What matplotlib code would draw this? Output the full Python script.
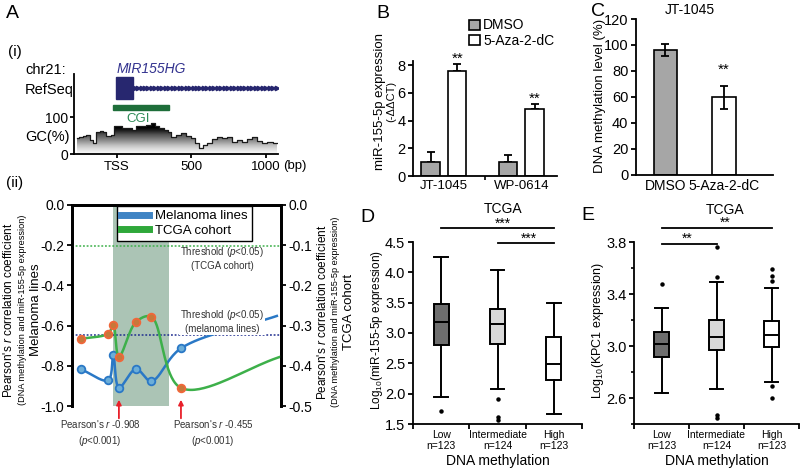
import numpy as np
import matplotlib
matplotlib.use("Agg")
import matplotlib.pyplot as plt
from matplotlib.lines import Line2D
from matplotlib.patches import Rectangle

# ---- data -------------------------------------------------------------
# A(i) GC content profile around MIR155HG (bp relative to TSS)
gc_bp = [-270, -240, -218, -195, -173, -150, -128, -105, -83, -61, -27, -16, 18, 52, 86,
         108, 142, 175, 209, 243, 265, 299, 333, 355, 377, 411, 445, 478, 512, 535,
         562, 591, 625, 658, 692, 726, 760, 793, 827, 861, 894, 928, 962, 995, 1029, 1074]
gc_pct = [43, 45, 49, 52, 38, 29, 61, 64, 61, 49, 52, 76, 75, 72, 70,
          65, 75, 76, 79, 84, 76, 70, 65, 61, 45, 52, 56, 49, 43, 29,
          15, 25, 31, 40, 47, 43, 45, 34, 38, 34, 40, 45, 36, 31, 34, 31]
exon_bp = [-9, 108]
transcript_end = 1074
cgi_bp = [-27, 351]

# A(ii) Pearson r per CpG probe
probe_bp = [-247, -61, -27, 11, 126, 229, 429]
mel_r = [-0.816, -0.872, -0.748, -0.908, -0.816, -0.876, -0.713]
tcga_r = [-0.333, -0.320, -0.299, -0.377, -0.291, -0.278, -0.455]
mel_tail = [1075, -0.552]
tcga_tail = [1103, -0.377]
mel_thresh = -0.645
tcga_thresh = -0.103

# B qPCR
cell_lines = ["JT-1045", "WP-0614"]
dmso_expr = [1.0, 1.0]
dmso_err = [0.7, 0.55]
aza_expr = [7.57, 4.87]
aza_err = [0.5, 0.35]

# C methylation
c_groups = ["DMSO", "5-Aza-2-dC"]
meth = [96.2, 59.7]
meth_err = [4.7, 9.0]

# D / E TCGA boxplots
meth_groups = ["Low\nn=123", "Intermediate\nn=124", "High\nn=123"]
d_whislo = [1.94, 2.07, 1.66]
d_q1 = [2.81, 2.82, 2.23]
d_med = [3.18, 3.15, 2.49]
d_q3 = [3.47, 3.39, 2.93]
d_whishi = [4.26, 4.04, 3.49]
d_fliers = [[1.71], [1.92, 1.61, 1.57], []]
e_whislo = [2.64, 2.67, 2.72]
e_q1 = [2.915, 2.97, 2.99]
e_med = [3.015, 3.07, 3.085]
e_q3 = [3.11, 3.20, 3.19]
e_whishi = [3.29, 3.49, 3.45]
e_fliers = [[3.48], [3.76, 3.53, 2.47, 2.45], [3.59, 3.54, 3.50, 2.69, 2.60]]
box_colors = ["#6e6e6e", "#d9d9d9", "white"]

# ---- style ------------------------------------------------------------
plt.rcParams["font.family"] = ["Liberation Sans", "DejaVu Sans"]
plt.rcParams["mathtext.fontset"] = "custom"
plt.rcParams["mathtext.rm"] = "Liberation Sans"
plt.rcParams["mathtext.it"] = "Liberation Sans:italic"
plt.rcParams["axes.linewidth"] = 1.3
plt.rcParams["xtick.major.width"] = 1.3
plt.rcParams["ytick.major.width"] = 1.3
plt.rcParams["xtick.major.size"] = 3.5
plt.rcParams["ytick.major.size"] = 3.5

W, H = 800, 468
fig = plt.figure(figsize=(8, 4.68), dpi=100)


def px_rect(l, t, r, b):
    return [l / W, 1 - b / H, (r - l) / W, (b - t) / H]


def label(x, y, s, **kw):
    kw.setdefault("ha", "center")
    kw.setdefault("va", "center")
    return fig.text(x / W, 1 - y / H, s, **kw)


def smooth_curve(xs, ys, sx, sy, n=40):
    # centripetal Catmull-Rom through the points (drawing style only)
    p = np.column_stack([np.asarray(xs, float) * sx, np.asarray(ys, float) * sy])
    p = np.vstack([2 * p[0] - p[1], p, 2 * p[-1] - p[-2]])
    out = []
    for i in range(1, len(p) - 2):
        p0, p1, p2, p3 = p[i - 1], p[i], p[i + 1], p[i + 2]
        t0 = 0.0
        t1 = t0 + np.linalg.norm(p1 - p0) ** 0.5
        t2 = t1 + np.linalg.norm(p2 - p1) ** 0.5
        t3 = t2 + np.linalg.norm(p3 - p2) ** 0.5
        t = np.linspace(t1, t2, n)[:, None]
        a1 = (t1 - t) / (t1 - t0) * p0 + (t - t0) / (t1 - t0) * p1
        a2 = (t2 - t) / (t2 - t1) * p1 + (t - t1) / (t2 - t1) * p2
        a3 = (t3 - t) / (t3 - t2) * p2 + (t - t2) / (t3 - t2) * p3
        b1 = (t2 - t) / (t2 - t0) * a1 + (t - t0) / (t2 - t0) * a2
        b2 = (t3 - t) / (t3 - t1) * a2 + (t - t1) / (t3 - t1) * a3
        out.append((t2 - t) / (t2 - t1) * b1 + (t - t1) / (t2 - t1) * b2)
    c = np.vstack(out)
    return c[:, 0] / sx, c[:, 1] / sy


# ---- panel letters ----------------------------------------------------
for x, y, s in [(12, 13, "A"), (383, 13, "B"), (598, 11, "C"), (367, 217, "D"), (588, 216, "E")]:
    label(x, y, s, fontsize=14)

# ---- A(i) genomic track ----------------------------------------------
ax_gc = fig.add_axes(px_rect(74, 74, 278, 154))
ax_gc.set_xlim(-290, 1083)
ax_gc.set_ylim(0, 218)
grad = np.clip(np.linspace(0, 90, 256) / 70, 0, 1).reshape(-1, 1)
im = ax_gc.imshow(grad, extent=[gc_bp[0] - 20, gc_bp[-1] + 20, 0, 90], origin="lower",
                  cmap="Greys", vmin=-0.05, vmax=1.0, aspect="auto", zorder=1)
fill = ax_gc.fill_between(gc_bp, gc_pct, step="mid", facecolor="none", edgecolor="none")
im.set_clip_path(fill.get_paths()[0], transform=ax_gc.transData)
ax_gc.step(gc_bp, gc_pct, where="mid", color="#1a1a1a", lw=0.9, zorder=2)

gene_col = "#27276f"
ax_gc.add_patch(Rectangle((exon_bp[0], 151), exon_bp[1] - exon_bp[0], 60, color=gene_col, zorder=3))
chev_x = np.linspace(exon_bp[1] + 10, transcript_end, 42)
ax_gc.plot([exon_bp[1], transcript_end], [179, 179], color=gene_col, lw=1.5, zorder=3)
ax_gc.plot(chev_x, np.full_like(chev_x, 179), ls="none", marker=">", ms=3.2, color=gene_col, zorder=3)
ax_gc.add_patch(Rectangle((cgi_bp[0], 119), cgi_bp[1] - cgi_bp[0], 15, color="#1e6e3a", zorder=3))
ax_gc.text(sum(cgi_bp) / 2 - 20, 95, "CGI", color="#2e8b57", fontsize=9.5, ha="center", va="center")
ax_gc.text(sum(exon_bp) / 2 + 180, 232, "MIR155HG", color="#33338f", fontsize=10,
           style="italic", ha="center", va="center", clip_on=False)

ax_gc.set_xticks([0, 500, 1000], ["TSS", "500", "1000"], fontsize=9.5)
ax_gc.set_yticks([0, 100], ["0", "100"], fontsize=10)
ax_gc.tick_params(axis="y", length=3, pad=1)
ax_gc.tick_params(axis="x", length=3, pad=2)
for s in ["top", "right"]:
    ax_gc.spines[s].set_visible(False)

label(15, 52, "(i)", fontsize=11)
label(25, 70, "chr21:", fontsize=10.5, ha="left")
label(25, 90, "RefSeq", fontsize=10.5, ha="left")
label(25, 137, "GC(%)", fontsize=10.5, ha="left")
label(283, 166, "(bp)", fontsize=9.5, ha="left")

# ---- A(ii) correlation -----------------------------------------------
label(15, 183, "(ii)", fontsize=11)
mel_col = "#2a78c6"
tcga_col = "#3db04a"
ax_r = fig.add_axes(px_rect(72, 205, 281, 406))
ax_r.set_xlim(-305, 1103)
ax_r.set_ylim(-1, 0)
ax_t = ax_r.twinx()
ax_t.set_ylim(-0.5, 0)

ax_r.axvspan(cgi_bp[0], cgi_bp[1], color="#abc4b5", zorder=0, lw=0)
ax_r.axhline(mel_thresh, color="#1f2d8f", ls=(0, (1.2, 1.2)), lw=1.1, zorder=1)
ax_t.axhline(tcga_thresh, color="#3db04a", ls=(0, (1.2, 1.2)), lw=1.1, zorder=1)

sx, sy = 209 / 1408, 201
mx, my = smooth_curve(probe_bp + [mel_tail[0]], mel_r + [mel_tail[1]], sx, sy)
ax_r.plot(mx, my, color=mel_col, lw=1.8, zorder=2)
ax_r.plot(probe_bp, mel_r, ls="none", marker="o", ms=5.5, mfc="#6caed8", mec=mel_col,
          mew=1.3, zorder=3, clip_on=False)
tx, ty = smooth_curve(probe_bp + [tcga_tail[0]], tcga_r + [tcga_tail[1]], sx, 2 * sy)
ax_t.plot(tx, ty, color=tcga_col, lw=1.8, zorder=2)
ax_t.plot(probe_bp, tcga_r, ls="none", marker="o", ms=5.5, mfc="#c7783a", mec="#f0673a",
          mew=1.3, zorder=3, clip_on=False)

ax_r.set_xticks([])
ax_r.set_yticks([0, -0.2, -0.4, -0.6, -0.8, -1.0], ["0.0", "-0.2", "-0.4", "-0.6", "-0.8", "-1.0"], fontsize=10)
ax_t.set_yticks([0, -0.1, -0.2, -0.3, -0.4, -0.5], ["0.0", "-0.1", "-0.2", "-0.3", "-0.4", "-0.5"], fontsize=10)
ax_r.tick_params(axis="y", pad=2)
ax_t.tick_params(axis="y", pad=2)
for a in (ax_r, ax_t):
    a.spines["bottom"].set_visible(False)
    a.spines["top"].set_linewidth(2)
    a.spines["left"].set_linewidth(2)
    a.spines["right"].set_linewidth(2)

for px_i in (3, 6):
    ax_r.annotate("", xy=(probe_bp[px_i], -0.955), xytext=(probe_bp[px_i], -1.075),
                  arrowprops=dict(arrowstyle="-|>", color="#e8202a", lw=1.3, mutation_scale=7))
label(100, 433, f"Pearson's $r$ {mel_r[3]:.3f}\n($p$<0.001)", fontsize=7, color="#333333", linespacing=1.3)
label(213, 433, f"Pearson's $r$ {tcga_r[6]:.3f}\n($p$<0.001)", fontsize=7, color="#333333", linespacing=1.3)
label(222, 258, "Threshold ($p$<0.05)\n(TCGA cohort)", fontsize=7, color="#333333", linespacing=1.3)
label(222, 321, "Threshold ($p$<0.05)\n(melanoma lines)", fontsize=7, color="#333333", linespacing=1.3,
      bbox=dict(facecolor="white", edgecolor="none", boxstyle="square,pad=0.05"))

handles = [Line2D([], [], color="#3f84c4", lw=5), Line2D([], [], color="#2fa83a", lw=5)]
ax_t.legend(handles, ["Melanoma lines", "TCGA cohort"], loc="upper left", bbox_to_anchor=(0.215, 0.995),
            fontsize=9.5, frameon=True, fancybox=False, edgecolor="black", framealpha=1,
            handlelength=2.1, handletextpad=0.5, borderpad=0.3, labelspacing=0.2, borderaxespad=0)

label(9, 310, "Pearson's $r$ correlation coefficient", rotation=90, fontsize=8.5)
label(23, 310, "(DNA methylation and miR-155-5p expression)", rotation=90, fontsize=6.6)
label(36, 310, "Melanoma lines", rotation=90, fontsize=9.5)
label(322, 312, "Pearson's $r$ correlation coefficient", rotation=90, fontsize=8.5)
label(336, 312, "(DNA methylation and miR-155-5p expression)", rotation=90, fontsize=6.6)
label(349, 312, "TCGA cohort", rotation=90, fontsize=9.5)

# ---- B qPCR ------------------------------------------------------------
ax_b = fig.add_axes(px_rect(413, 61, 557, 176))
xb = np.arange(len(cell_lines))
off, wb = 0.171, 0.239
ax_b.bar(xb - off, dmso_expr, wb, color="#a6a6a6", edgecolor="black", lw=1.2, label="DMSO", zorder=2)
ax_b.bar(xb + off, aza_expr, wb, color="white", edgecolor="black", lw=1.2, label="5-Aza-2-dC", zorder=2)
ax_b.errorbar(xb - off, dmso_expr, yerr=[np.zeros(len(xb)), dmso_err], fmt="none", ecolor="black",
              elinewidth=1.3, capsize=3, capthick=1.3, zorder=1)
ax_b.errorbar(xb + off, aza_expr, yerr=[np.zeros(len(xb)), aza_err], fmt="none", ecolor="black",
              elinewidth=1.3, capsize=3, capthick=1.3, zorder=1)
for xi, v, e in zip(xb + off, aza_expr, aza_err):
    ax_b.text(xi, v + e - 0.15, "**", ha="center", va="bottom", fontsize=11, clip_on=False)
ax_b.set_xlim(-0.4, 1.46)
ax_b.set_ylim(0, 8.3)
ax_b.set_yticks([0, 2, 4, 6, 8])
ax_b.set_xticks(xb, cell_lines, fontsize=9.5)
ax_b.tick_params(axis="x", length=0, pad=3)
ax_b.tick_params(axis="y", labelsize=10.5, pad=2)
ax_b.set_xticks([0.53], minor=True)
ax_b.tick_params(axis="x", which="minor", length=3, width=1.2)
for s in ["top", "right"]:
    ax_b.spines[s].set_visible(False)
ax_b.legend(loc="upper left", bbox_to_anchor=(0.39, 1.37), frameon=False, fontsize=10,
            handlelength=0.75, handleheight=0.75, handletextpad=0.25, labelspacing=0.1,
            borderpad=0, borderaxespad=0)
label(380, 101, "miR-155-5p expression", rotation=90, fontsize=9.5)
label(391, 101, "(-ΔΔCT)", rotation=90, fontsize=8)

# ---- C methylation ---------------------------------------------------
ax_c = fig.add_axes(px_rect(636, 19, 773, 175))
xc = np.arange(len(c_groups))
ax_c.bar(xc, meth, 0.40, color=["#a6a6a6", "white"], edgecolor="black", lw=1.2, zorder=2)
ax_c.errorbar(xc, meth, yerr=meth_err, fmt="none", ecolor="black", elinewidth=1.3,
              capsize=3, capthick=1.3, zorder=3)
ax_c.text(xc[1], meth[1] + meth_err[1] + 12, "**", ha="center", va="center", fontsize=11)
ax_c.set_xlim(-0.504, 1.838)
ax_c.set_ylim(0, 120)
ax_c.set_yticks(np.arange(0, 121, 20))
ax_c.set_xticks(xc, c_groups, fontsize=10)
ax_c.tick_params(axis="x", length=0, pad=3)
ax_c.tick_params(axis="y", labelsize=10.5, pad=2)
for s in ["top", "right"]:
    ax_c.spines[s].set_visible(False)
label(690, 10, "JT-1045", fontsize=10)
label(600, 96, "DNA methylation level (%)", rotation=90, fontsize=9.5)


# ---- D / E boxplots --------------------------------------------------
def draw_box(ax, whislo, q1, med, q3, whishi, fliers):
    stats = []
    for i in range(len(med)):
        stats.append(dict(whislo=whislo[i], q1=q1[i], med=med[i], q3=q3[i], whishi=whishi[i], fliers=fliers[i]))
    lw = 1.4
    bp = ax.bxp(stats, positions=[0.5, 1.5, 2.5], widths=0.27, patch_artist=True, capwidths=0.24,
                boxprops=dict(lw=lw, edgecolor="black"), medianprops=dict(color="black", lw=lw),
                whiskerprops=dict(lw=lw, color="black"), capprops=dict(lw=lw, color="black"),
                flierprops=dict(marker="o", ms=2.2, mfc="black", mec="black", ls="none"))
    for patch, col in zip(bp["boxes"], box_colors):
        patch.set_facecolor(col)
    ax.set_xlim(0, 3)
    ax.set_xticks([0, 1, 2, 3], [])
    ax.set_xticks([0.5, 1.5, 2.5], meth_groups, minor=True, fontsize=7.5)
    ax.tick_params(axis="x", which="minor", length=0, pad=4)
    ax.tick_params(axis="x", which="major", length=3.5)
    ax.tick_params(axis="y", labelsize=10.5, pad=2)
    ax.set_xlabel("DNA methylation", fontsize=10, labelpad=2)
    for s in ["top", "right"]:
        ax.spines[s].set_visible(False)


ax_d = fig.add_axes(px_rect(413, 242, 582, 424))
draw_box(ax_d, d_whislo, d_q1, d_med, d_q3, d_whishi, d_fliers)
ax_d.set_ylim(1.5, 4.5)
ax_d.set_yticks(np.arange(1.5, 4.51, 0.5))
ax_d.plot([0.5, 2.5], [4.73, 4.73], color="black", lw=1.3, clip_on=False)
ax_d.plot([1.5, 2.5], [4.48, 4.48], color="black", lw=1.3, clip_on=False)
ax_d.text(1.6, 4.74, "***", ha="center", va="baseline", fontsize=10, clip_on=False)
ax_d.text(2.05, 4.49, "***", ha="center", va="baseline", fontsize=10, clip_on=False)
label(503, 209, "TCGA", fontsize=10)
label(377, 330, "Log$_{10}$(miR-155-5p expression)", rotation=90, fontsize=8.5)

ax_e = fig.add_axes(px_rect(634, 242, 799, 424))
draw_box(ax_e, e_whislo, e_q1, e_med, e_q3, e_whishi, e_fliers)
ax_e.set_ylim(2.4, 3.8)
ax_e.set_yticks([2.6, 3.0, 3.4, 3.8], ["2.6", "3.0", "3.4", "3.8"])
ax_e.set_yticks([2.4, 2.8, 3.2, 3.6], minor=True)
ax_e.tick_params(axis="y", which="minor", length=2.5, width=1.2)
ax_e.plot([0.5, 2.5], [3.91, 3.91], color="black", lw=1.3, clip_on=False)
ax_e.plot([0.5, 1.5], [3.787, 3.787], color="black", lw=1.3, clip_on=False)
ax_e.text(1.65, 3.915, "**", ha="center", va="baseline", fontsize=10, clip_on=False)
ax_e.text(0.96, 3.792, "**", ha="center", va="baseline", fontsize=10, clip_on=False)
label(725, 210, "TCGA", fontsize=10)
label(598, 330, "Log$_{10}$(KPC1 expression)", rotation=90, fontsize=9)

fig.savefig("out.png", dpi=100)
